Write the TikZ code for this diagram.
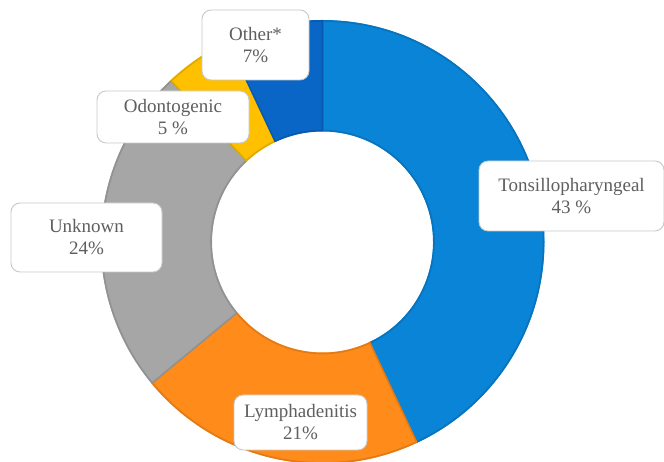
\documentclass[tikz,border=0pt]{standalone}
\usepackage{fontspec}
\setmainfont{Liberation Serif}
\usetikzlibrary{calc}
\definecolor{cTons}{HTML}{0A84D6}
\definecolor{cLymph}{HTML}{FF8C1A}
\definecolor{cUnk}{HTML}{A6A6A6}
\definecolor{cOdon}{HTML}{FFC000}
\definecolor{cOther}{HTML}{0A66C6}
\definecolor{cText}{HTML}{5F5F5F}
\definecolor{cBorder}{HTML}{C8C8C8}
\begin{document}
\begin{tikzpicture}[x=1pt,y=1pt,
  lbl/.style={draw=cBorder, line width=0.9pt, fill=white, rounded corners=9pt,
    align=center, text=cText, font=\fontsize{19}{22}\selectfont, inner sep=2pt},
  slice/.style={line width=1.6pt}]
\useasboundingbox (0,0) rectangle (664,462);
\def\Ro{222}
\def\Ri{110.5}
\coordinate (c) at (322.5,220);
\newcommand{\ringslice}[3]{%
  \fill[#3] ($(c)+(#1:\Ro)$) arc[start angle=#1, end angle=#2, radius=\Ro]
    -- ($(c)+(#2:\Ri)$) arc[start angle=#2, end angle=#1, radius=\Ri] -- cycle;
  \draw[#3!88!black, slice] ($(c)+(#1:\Ro-1)$) arc[start angle=#1, end angle=#2, radius=\Ro-1]
    -- ($(c)+(#2:\Ri+1)$) arc[start angle=#2, end angle=#1, radius=\Ri+1] -- cycle;}
\ringslice{90}{-64.8}{cTons}
\ringslice{-64.8}{-140.4}{cLymph}
\ringslice{-140.4}{-226.8}{cUnk}
\ringslice{-226.8}{-244.8}{cOdon}
\ringslice{-244.8}{-270}{cOther}
\node[lbl, minimum width=107pt, minimum height=70pt] (other) at (255.5,417) {Other*\\7\%};
\node[lbl, minimum width=152pt, minimum height=52pt] (odon) at (173,345) {Odontogenic\\5 \%};
\node[lbl, minimum width=151pt, minimum height=69pt] (unk) at (86.5,224.5) {Unknown\\24\%};
\node[lbl, minimum width=185pt, minimum height=70pt] (tons) at (571.5,266) {Tonsillopharyngeal\\43 \%};
\node[lbl, minimum width=133pt, minimum height=55pt] (lymph) at (300.5,39.5) {Lymphadenitis\\21\%};
\end{tikzpicture}
\end{document}
